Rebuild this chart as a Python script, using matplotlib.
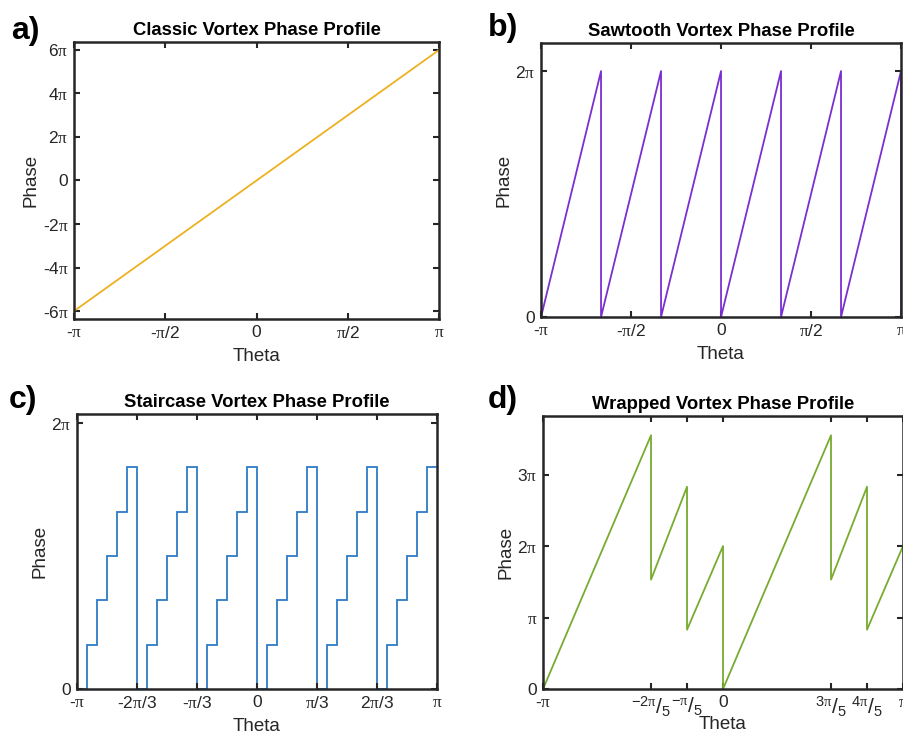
import numpy as np
import matplotlib
matplotlib.use('Agg')
from matplotlib import pyplot as plt

plt.rcParams['font.family'] = ['Liberation Sans', 'DejaVu Sans']
plt.rcParams['mathtext.fontset'] = 'custom'
plt.rcParams['mathtext.rm'] = 'Liberation Sans'
plt.rcParams['mathtext.it'] = 'Liberation Serif'
plt.rcParams['mathtext.bf'] = 'Liberation Sans:bold'

# all theta / phase values in units of pi
classic_theta = [-1, 1]
classic_phase = [-6, 6]

saw_theta = [-1, -2/3, -2/3, -1/3, -1/3, 0, 0, 1/3, 1/3, 2/3, 2/3, 1, 1]
saw_phase = [0, 2, 0, 2, 0, 2, 0, 2, 0, 2, 0, 2, 0]

# staircase levels (units of pi/3), 6 steps per tooth, 6 teeth
stair_levels = [0, 1, 2, 3, 4, 5,
                0, 1, 2, 3, 4, 5,
                0, 1, 2, 3, 4, 5,
                0, 1, 2, 3, 4, 5,
                0, 1, 2, 3, 4, 5,
                0, 1, 2, 3, 4, 5]

wrap_theta = [-1, -0.4, -0.4, -0.2, -0.2, 0, 0, 0.6, 0.6, 0.8, 0.8, 1]
wrap_phase = [0, 3.55, 1.53, 2.83, 0.83, 2.0, 0, 3.55, 1.53, 2.83, 0.83, 2.0]

xt_half = [-1, -0.5, 0, 0.5, 1]
xl_half = ['-$\\pi$', '-$\\pi$/2', '0', '$\\pi$/2', '$\\pi$']
xt_third = [-1, -2/3, -1/3, 0, 1/3, 2/3, 1]
xl_third = ['-$\\pi$', '-2$\\pi$/3', '-$\\pi$/3', '0', '$\\pi$/3', '2$\\pi$/3', '$\\pi$']
xt_fifth = [-1, -0.4, -0.2, 0, 0.6, 0.8, 1]
xl_fifth = ['-$\\pi$', '$^{-2\\pi}/_{5}$', '$^{-\\pi}/_{5}$', '0',
            '$^{3\\pi}/_{5}$', '$^{4\\pi}/_{5}$', '$\\pi$']

dark = '#262626'
fig = plt.figure(figsize=(9.04, 7.34), dpi=100)


def style(ax, title, xt, xl, yt, yl, ylim):
    ax.set_xlim(-np.pi, np.pi)
    ax.set_ylim(*ylim)
    ax.set_xticks(np.array(xt) * np.pi)
    ax.set_xticklabels(xl)
    ax.set_yticks(np.array(yt) * np.pi)
    ax.set_yticklabels(yl)
    ax.tick_params(direction='in', top=True, right=True, length=4, width=1.5,
                   colors=dark, labelsize=12.5, pad=4)
    for s in ax.spines.values():
        s.set_linewidth(1.8)
        s.set_color(dark)
    ax.set_title(title, fontsize=13.3, fontweight='bold', pad=5)
    ax.set_xlabel('Theta', fontsize=13.5, color=dark, labelpad=5.5)
    ax.set_ylabel('Phase', fontsize=13.5, color=dark, labelpad=2)


ax1 = fig.add_axes([0.0819, 0.5654, 0.4038, 0.3774])
ax1.plot(np.array(classic_theta) * np.pi, np.array(classic_phase) * np.pi,
         color='#EDB120', lw=1.3)
style(ax1, 'Classic Vortex Phase Profile', xt_half, xl_half,
      [-6, -4, -2, 0, 2, 4, 6],
      ['-6$\\pi$', '-4$\\pi$', '-2$\\pi$', '0', '2$\\pi$', '4$\\pi$', '6$\\pi$'],
      (-20, 20))

ax2 = fig.add_axes([0.5985, 0.5681, 0.3982, 0.3733])
ax2.plot(np.array(saw_theta) * np.pi, np.array(saw_phase) * np.pi,
         color='#7B2FD1', lw=1.3)
style(ax2, 'Sawtooth Vortex Phase Profile', xt_half, xl_half,
      [0, 2], ['0', '2$\\pi$'], (0, 7))

ax3 = fig.add_axes([0.0852, 0.0613, 0.3982, 0.3747])
edges = np.linspace(-np.pi, np.pi, len(stair_levels) + 1)
ax3.stairs(np.array(stair_levels) * np.pi / 3, edges, baseline=None,
           color='#2F7BC6', lw=1.3)
style(ax3, 'Staircase Vortex Phase Profile', xt_third, xl_third,
      [0, 2], ['0', '2$\\pi$'], (0, 6.5))

ax4 = fig.add_axes([0.6007, 0.0613, 0.3982, 0.3719])
ax4.plot(np.array(wrap_theta) * np.pi, np.array(wrap_phase) * np.pi,
         color='#77AC30', lw=1.3)
style(ax4, 'Wrapped Vortex Phase Profile', xt_fifth, xl_fifth,
      [0, 1, 2, 3], ['0', '$\\pi$', '2$\\pi$', '3$\\pi$'], (0, 12))
for lbl in ax4.get_xticklabels():
    if '/' in lbl.get_text():
        lbl.set_fontsize(15)
ax4.xaxis.labelpad = -2

for lab, x, y in [('a)', 0.012, 0.958), ('b)', 0.54, 0.962),
                  ('c)', 0.01, 0.455), ('d)', 0.54, 0.455)]:
    fig.text(x, y, lab, fontsize=23, fontweight='bold', va='center')

fig.savefig('out.png', dpi=100)
